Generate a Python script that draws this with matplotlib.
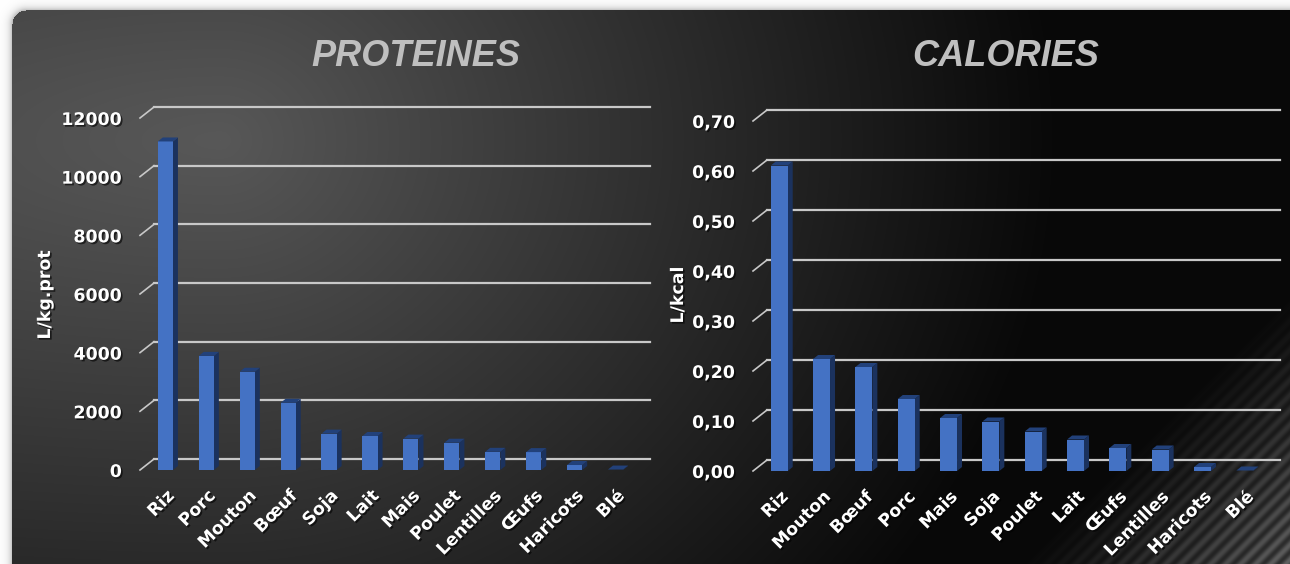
import numpy as np
import matplotlib
matplotlib.use("Agg")
import matplotlib.pyplot as plt
import matplotlib.patheffects as pe
from matplotlib.ticker import FuncFormatter

# donnees
prot_labels = ["Riz", "Porc", "Mouton", "Bœuf", "Soja", "Lait", "Mais", "Poulet",
               "Lentilles", "Œufs", "Haricots", "Blé"]
prot_values = [11200, 3890, 3350, 2290, 1240, 1160, 1070, 930, 620, 610, 170, 15]

cal_labels = ["Riz", "Mouton", "Bœuf", "Porc", "Mais", "Soja", "Poulet", "Lait",
              "Œufs", "Lentilles", "Haricots", "Blé"]
cal_values = [0.611, 0.224, 0.208, 0.144, 0.106, 0.099, 0.079, 0.063, 0.046, 0.043, 0.008, 0.001]

W, H, DPI = 1290, 564, 100
FRONT = "#4472c4"
SIDE = "#1b325e"
TOP = "#22417a"
GRID = "#c8c8c8"

fig = plt.figure(figsize=(W / DPI, H / DPI), dpi=DPI)
fig.patch.set_facecolor("white")

# fond : panneau arrondi, degrade sombre, rayures en bas a droite
yy, xx = np.mgrid[0:H, 0:W].astype(float)
dx = xx - 220
dx = np.where(dx < 0, dx * 0.4, dx)
r = np.sqrt(dx ** 2 + ((yy - 140) * 1.15) ** 2)
base = np.clip(88 - 0.095 * r, 8, 255)
s = xx + yy
ramp = np.clip((s - 1585) / 270.0, 0, 1)
band = 0.5 + 0.5 * np.sin(2 * np.pi * s / 15.0)
base = base + ramp * 90 * (0.45 + 0.55 * band)

x0, y0, x1, y1, rad = 12, 10, 1310, 580, 14
cx = np.clip(xx, x0 + rad, x1 - rad)
cy = np.clip(yy, y0 + rad, y1 - rad)
dist = np.sqrt((xx - cx) ** 2 + (yy - cy) ** 2) - rad
inside = dist <= 0
shadow = 255 - 70 * np.exp(-np.clip(dist, 0, None) / 3.5)
img = np.where(inside, base, shadow) / 255.0
bg = fig.add_axes([0, 0, 1, 1])
bg.imshow(np.dstack([img, img, img]), aspect="auto", interpolation="bilinear")
bg.axis("off")

txt_fx = [pe.SimplePatchShadow(offset=(1.2, -1.2), shadow_rgbFace="black", alpha=0.6), pe.Normal()]


def draw_chart(rect, labels, values, ymax, step, fmt, ylabel, title, title_x, width, ylab_x):
    ax = fig.add_axes(rect)
    ax.set_facecolor("none")
    ax.set_xlim(-0.62, 11.5)
    ax.set_ylim(0, ymax)
    ux = rect[2] * W / 12.12  # pixels par categorie
    uy = rect[3] * H / ymax   # pixels par unite

    # lignes du fond (mur arriere) + petit trait diagonal
    fdx, fdy = 14 / ux, 11 / uy
    for v in np.arange(0, ymax + step / 2, step):
        ax.plot([-0.62 + fdx, 11.5 + fdx], [v + fdy, v + fdy], color=GRID, lw=1.6, clip_on=False, zorder=1)
        ax.plot([-0.62, -0.62 + fdx], [v, v + fdy], color=GRID, lw=1.2, clip_on=False, zorder=1)

    # barres 3D
    bdx, bdy = 5 / ux, 4 / uy
    xs = np.arange(len(values))
    ax.bar(xs, values, width=width, color=FRONT, zorder=3, clip_on=False)
    for x, v in zip(xs, values):
        xl, xr = x - width / 2, x + width / 2
        ax.fill([xr, xr, xr + bdx, xr + bdx], [0, v, v + bdy, bdy], color=SIDE, zorder=2.9, clip_on=False, lw=0)
        ax.fill([xl, xr, xr + bdx, xl + bdx], [v, v, v + bdy, v + bdy], color=TOP, zorder=3.1, clip_on=False, lw=0)

    ax.set_yticks(np.arange(0, ymax + step / 2, step))
    ax.yaxis.set_major_formatter(FuncFormatter(fmt))
    ax.set_xticks(xs)
    ax.set_xticklabels(labels, rotation=45, ha="right", rotation_mode="anchor")
    ax.tick_params(axis="both", length=0, colors="white")
    ax.tick_params(axis="y", pad=13, labelsize=12.5)
    ax.tick_params(axis="x", pad=12, labelsize=12.5)
    for lab in ax.get_yticklabels() + ax.get_xticklabels():
        lab.set_fontweight("bold")
        lab.set_path_effects(txt_fx)
    for sp in ax.spines.values():
        sp.set_visible(False)

    fig.text(ylab_x / W, 1 - 295 / H, ylabel, rotation=90, color="white", fontsize=12.5,
             fontweight="bold", ha="center", va="center", path_effects=txt_fx)
    fig.text(title_x / W, 1 - 57 / H, title, color="#bfbfbf", fontsize=26, fontweight="bold",
             fontstyle="italic", family="Liberation Sans", ha="center", va="center")
    return ax


draw_chart([140 / W, 94 / H, 496 / W, 352 / H], prot_labels, prot_values, 12000, 2000,
           lambda v, p: f"{v:.0f}", "L/kg.prot", "PROTEINES", 416, 0.37, 45)
draw_chart([753 / W, 93 / H, 513 / W, 350 / H], cal_labels, cal_values, 0.70, 0.10,
           lambda v, p: f"{v:.2f}".replace(".", ","), "L/kcal", "CALORIES", 1006, 0.40, 678)

fig.savefig("out.png", dpi=DPI)
